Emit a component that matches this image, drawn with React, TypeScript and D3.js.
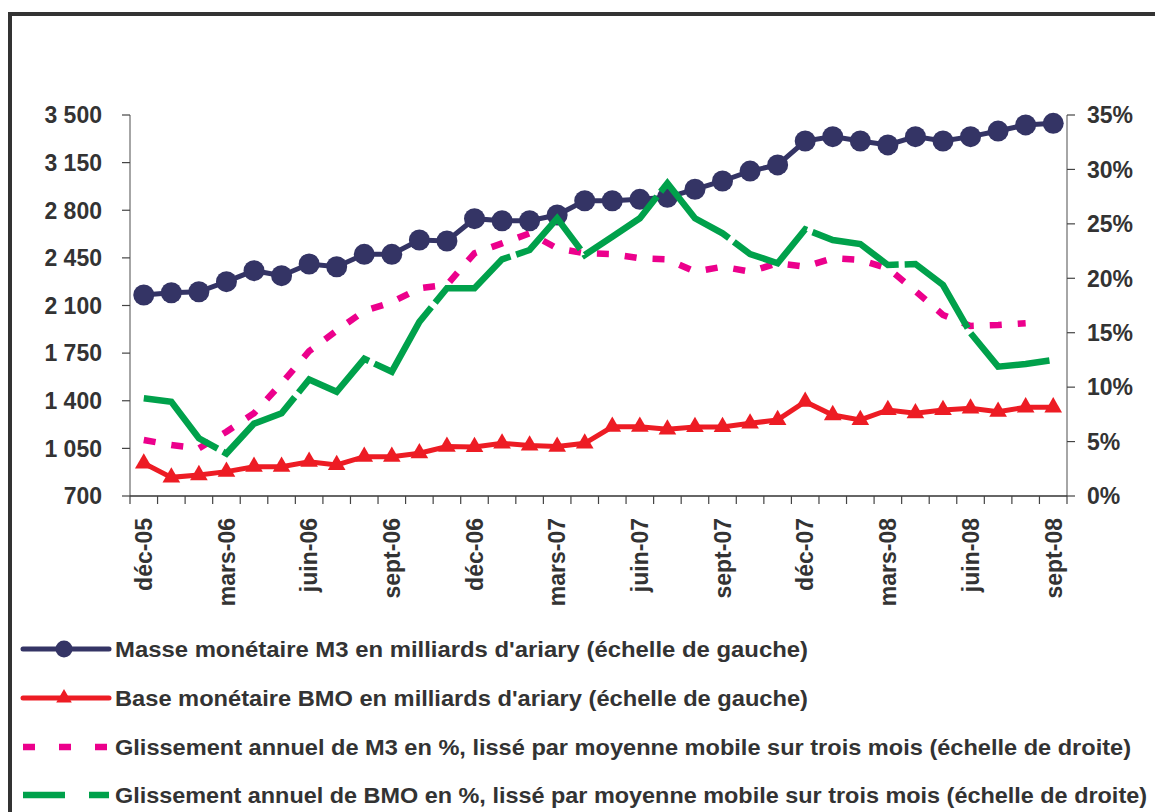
import React from "react";
import * as d3 from "d3";

const categories = [
  "déc-05", "janv-06", "févr-06", "mars-06", "avr-06", "mai-06", "juin-06", "juil-06", "août-06", "sept-06", "oct-06", "nov-06",
  "déc-06", "janv-07", "févr-07", "mars-07", "avr-07", "mai-07", "juin-07", "juil-07", "août-07", "sept-07", "oct-07", "nov-07",
  "déc-07", "janv-08", "févr-08", "mars-08", "avr-08", "mai-08", "juin-08", "juil-08", "août-08", "sept-08",
];
const tickLabels = ["déc-05", "mars-06", "juin-06", "sept-06", "déc-06", "mars-07", "juin-07", "sept-07", "déc-07", "mars-08", "juin-08", "sept-08"];

const m3 = [2177, 2194, 2201, 2275, 2356, 2319, 2405, 2385, 2476, 2476, 2581, 2574, 2738, 2723, 2723, 2765, 2870, 2870, 2880, 2895, 2954, 3015, 3088, 3133, 3309, 3341, 3309, 3280, 3341, 3309, 3341, 3382, 3427, 3439];
const bmo = [940, 837, 854, 879, 915, 915, 952, 928, 989, 989, 1014, 1063, 1060, 1087, 1072, 1063, 1087, 1209, 1209, 1190, 1207, 1207, 1234, 1259, 1393, 1295, 1259, 1332, 1308, 1332, 1344, 1320, 1352, 1352];
const m3Growth = [5.15, 4.69, 4.38, 5.91, 7.6, 10.35, 13.3, 15.2, 17.0, 17.8, 19.08, 19.4, 22.3, 23.21, 24.13, 22.75, 22.3, 22.23, 21.84, 21.74, 20.61, 21.06, 20.61, 21.38, 21.06, 21.84, 21.68, 20.92, 18.83, 16.63, 15.62, 15.71, 15.87, null];
const bmoGrowth = [8.98, 8.66, 5.3, 3.9, 6.65, 7.6, 10.7, 9.58, 12.6, 11.42, 16.0, 19.08, 19.08, 21.74, 22.6, 25.51, 22.14, 23.82, 25.51, 28.73, 25.51, 24.13, 22.23, 21.38, 24.5, 23.52, 23.15, 21.22, 21.31, 19.38, 14.97, 11.88, 12.13, 12.5];

const leftTicks = [700, 1050, 1400, 1750, 2100, 2450, 2800, 3150, 3500];
const rightTicks = [0, 5, 10, 15, 20, 25, 30, 35];

const legendLabels = [
  "Masse monétaire M3 en milliards d'ariary (échelle de gauche)",
  "Base monétaire BMO en milliards d'ariary (échelle de gauche)",
  "Glissement annuel de M3 en %, lissé par moyenne mobile sur trois mois (échelle de droite)",
  "Glissement annuel de BMO en %, lissé par moyenne mobile sur trois mois (échelle de droite)",
];

const NAVY = "#343465";
const RED = "#ED1C24";
const PINK = "#EC008C";
const GREEN = "#00A14B";
const TEXT = "#333333";
const FONT = "'Liberation Sans', Arial, sans-serif";

export default function App() {
  const W = 1155, H = 812;
  const L = 130, R = 1067, T = 115, B = 496;
  const x = d3.scaleBand<string>().domain(categories).range([L, R]);
  const cx = (i: number) => (x(categories[i]) as number) + x.bandwidth() / 2;
  const yL = d3.scaleLinear().domain([700, 3500]).range([B, T]);
  const yR = d3.scaleLinear().domain([0, 35]).range([B, T]);
  const loc = d3.formatLocale({ decimal: ",", thousands: " ", grouping: [3], currency: ["", ""] });
  const fmtL = loc.format(",");

  const lineL = d3.line<number>().x((_, i) => cx(i)).y((d) => yL(d));
  const lineR = d3
    .line<number | null>()
    .defined((d) => d != null)
    .x((_, i) => cx(i))
    .y((d) => yR(d as number));

  const tri = d3.symbol().type(d3.symbolTriangle).size(135)();
  const triLegend = d3.symbol().type(d3.symbolTriangle).size(105)();

  const xTickPos = categories.map((c) => x(c) as number).concat([R]);
  const legendY = [649, 698, 747, 795];
  const legendLen = [693, 693, 1016, 1032];

  return (
    <svg width={W} height={H} style={{ position: "absolute", left: 0, top: 0, background: "#fff" }} fontFamily={FONT}>
      <rect x={0} y={0} width={W} height={H} fill="#fff" />
      <rect x={10} y={14} width={1200} height={900} fill="none" stroke="#333" strokeWidth={4} />

      {/* Left axis */}
      <line x1={L} x2={L} y1={T} y2={B} stroke="#888" strokeWidth={1.5} />
      {leftTicks.map((t) => (
        <g key={"l" + t}>
          <line x1={L - 8} x2={L} y1={yL(t)} y2={yL(t)} stroke="#444" strokeWidth={1.2} />
          <text x={102} y={yL(t)} dy="0.36em" textAnchor="end" fontSize={23} fontWeight="bold" fill={TEXT}>
            {fmtL(t)}
          </text>
        </g>
      ))}

      {/* Right axis */}
      <line x1={R} x2={R} y1={T} y2={B} stroke="#888" strokeWidth={1.5} />
      {rightTicks.map((t) => (
        <g key={"r" + t}>
          <line x1={R} x2={R + 8} y1={yR(t)} y2={yR(t)} stroke="#444" strokeWidth={1.2} />
          <text x={1087} y={yR(t)} dy="0.36em" textAnchor="start" fontSize={23} fontWeight="bold" fill={TEXT}>
            {t + "%"}
          </text>
        </g>
      ))}

      {/* X axis */}
      <line x1={L} x2={R} y1={B} y2={B} stroke="#333" strokeWidth={1.5} />
      {xTickPos.map((p, i) => (
        <line key={"xt" + i} x1={p} x2={p} y1={B} y2={B + 8} stroke="#444" strokeWidth={1.2} />
      ))}
      {categories.map((c, i) =>
        tickLabels.includes(c) ? (
          <text
            key={"xl" + c}
            transform={`translate(${cx(i)},518) rotate(-90)`}
            dy="0.36em"
            textAnchor="end"
            fontSize={23}
            fontWeight="bold"
            fill={TEXT}
          >
            {c}
          </text>
        ) : null
      )}

      {/* M3 series */}
      <path d={lineL(m3) as string} fill="none" stroke={NAVY} strokeWidth={5} />
      {m3.map((v, i) => (
        <circle key={"m" + i} cx={cx(i)} cy={yL(v)} r={10.5} fill={NAVY} />
      ))}

      {/* BMO series */}
      <path d={lineL(bmo) as string} fill="none" stroke={RED} strokeWidth={5} />
      {bmo.map((v, i) => (
        <path key={"b" + i} d={tri as string} transform={`translate(${cx(i)},${yL(v)})`} fill={RED} />
      ))}

      {/* Growth series */}
      <path d={lineR(m3Growth) as string} fill="none" stroke={PINK} strokeWidth={6.5} strokeDasharray="12,16" />
      <path d={lineR(bmoGrowth) as string} fill="none" stroke={GREEN} strokeWidth={6.5} strokeDasharray="95,6" />

      {/* Legend */}
      <g>
        <line x1={23} x2={109} y1={legendY[0]} y2={legendY[0]} stroke={NAVY} strokeWidth={5} strokeLinecap="round" />
        <circle cx={64} cy={legendY[0]} r={8.5} fill={NAVY} />
        <line x1={23} x2={109} y1={legendY[1]} y2={legendY[1]} stroke={RED} strokeWidth={5} strokeLinecap="round" />
        <path d={triLegend as string} transform={`translate(64,${legendY[1]})`} fill={RED} />
        <line x1={23} x2={109} y1={legendY[2]} y2={legendY[2]} stroke={PINK} strokeWidth={6.5} strokeDasharray="12,24" />
        <line x1={23} x2={109} y1={legendY[3]} y2={legendY[3]} stroke={GREEN} strokeWidth={6.5} strokeDasharray="42,24" />
        {legendLabels.map((l, i) => (
          <text
            key={"lg" + i}
            x={115}
            y={legendY[i]}
            dy="0.36em"
            fontSize={22}
            fontWeight="bold"
            fill={TEXT}
            textLength={legendLen[i]}
            lengthAdjust="spacingAndGlyphs"
          >
            {l}
          </text>
        ))}
      </g>
    </svg>
  );
}
